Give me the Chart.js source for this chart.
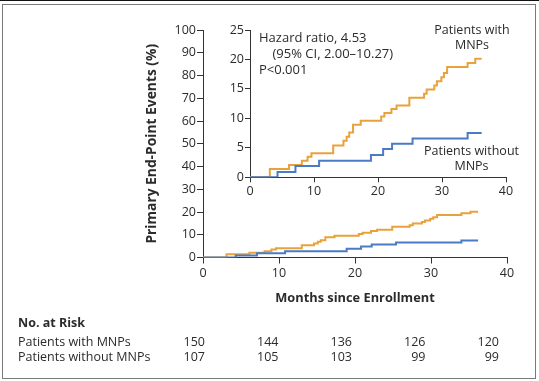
<!DOCTYPE html>
<html>
<head>
<meta charset="utf-8">
<script src="https://cdn.jsdelivr.net/npm/chart.js@4.4.1/dist/chart.umd.min.js"></script>
<style>
html,body{margin:0;padding:0;background:#fff;}
#wrap{position:relative;width:539px;height:381px;overflow:hidden;font-family:"Open Sans",sans-serif;color:#2b2b2b;font-size:12.5px;}
#topline{position:absolute;left:0;top:0;width:539px;height:1px;background:#111;}
#frame{position:absolute;left:2px;top:4px;width:534px;height:375px;box-sizing:border-box;border:1.5px solid #7a7a7a;}
canvas{position:absolute;}
#main{left:0;top:0;}
#inset{left:200px;top:15px;}
.t{position:absolute;white-space:nowrap;line-height:16px;}
.c{text-align:center;}
.r{text-align:right;width:40px;}
.hz{font-size:13px;}
</style>
</head>
<body>
<div id="wrap">
  <div id="topline"></div>
  <div id="frame"></div>
  <canvas id="main" width="539" height="381"></canvas>
  <canvas id="inset" width="320" height="200"></canvas>
  <div class="t hz" style="left:259px;top:28.5px;">Hazard ratio, 4.53</div>
  <div class="t hz" style="left:272.5px;top:44.5px;">(95% CI, 2.00–10.27)</div>
  <div class="t hz" style="left:259px;top:60.5px;">P&lt;0.001</div>
  <div class="t c" style="left:412px;width:120px;top:22px;line-height:15px;">Patients with<br>MNPs</div>
  <div class="t c" style="left:411.5px;width:120px;top:143px;line-height:15px;">Patients without<br>MNPs</div>
  <div class="t" style="left:18px;top:315px;font-weight:bold;">No. at Risk</div>
  <div id="risk"></div>
</div>
<script>
// ---- data ----
const monthTicks = [0, 10, 20, 30, 40];
const withMonths  = [0, 3.1, 6.1, 8.1, 9.0, 9.6, 13.0, 14.6, 15.1, 15.5, 16.1, 17.3, 20.5, 21.0, 22.1, 22.9, 24.9, 27.2, 27.6, 28.8, 29.2, 29.9, 30.3, 30.8, 34.0, 35.2, 36.2];
const withValues  = [0, 1.4, 2.1, 2.8, 3.5, 4.1, 5.4, 6.2, 6.9, 7.6, 8.9, 9.6, 10.3, 10.9, 11.6, 12.2, 13.5, 14.2, 14.9, 15.6, 16.3, 17.0, 17.7, 18.7, 19.4, 20.1, 20.1];
const withoutMonths = [0, 4.3, 7.1, 10.8, 18.9, 20.8, 22.2, 25.4, 34.0, 36.2];
const withoutValues = [0, 0.9, 1.9, 2.8, 3.8, 4.8, 5.7, 6.6, 7.5, 7.5];
const riskLabels  = ["Patients with MNPs", "Patients without MNPs"];
const riskWith    = [150, 144, 136, 126, 120];
const riskWithout = [107, 105, 103, 99, 99];

const ORANGE = '#E9A23B';
const BLUE = '#4A7BC4';
const INK = '#2b2b2b';
const AXIS = '#333333';
const FONT = {family: '"Open Sans", sans-serif', size: 12.5};

function pts(xs, ys){ return xs.map((x,i)=>({x:x, y:ys[i]})); }
function datasets(){
  return [
    {data: pts(withoutMonths, withoutValues), borderColor: BLUE, borderWidth: 2, pointRadius: 0, stepped: true, fill: false},
    {data: pts(withMonths, withValues), borderColor: ORANGE, borderWidth: 2, pointRadius: 0, stepped: true, fill: false}
  ];
}
function axisGrid(len){
  return {display: true, drawOnChartArea: false, drawTicks: true, tickLength: len, tickColor: AXIS, color: AXIS, lineWidth: 1};
}

new Chart(document.getElementById('main'), {
  type: 'line',
  data: {datasets: datasets()},
  options: {
    responsive: false, animation: false, devicePixelRatio: 1,
    layout: {padding: {left: 140, top: 30, right: 32, bottom: 75}},
    plugins: {legend: {display: false}, tooltip: {enabled: false}},
    scales: {
      x: {
        type: 'linear', min: 0, max: 40,
        afterBuildTicks: s => { s.ticks = monthTicks.map(v => ({value: v})); },
        ticks: {color: INK, font: FONT, padding: 2, maxRotation: 0},
        grid: axisGrid(6),
        border: {display: true, color: AXIS, width: 1},
        title: {display: true, text: 'Months since Enrollment', color: INK, font: {family: FONT.family, size: 12.8, weight: 'bold'}, padding: {top: 0, bottom: 0}},
        afterFit: s => { s.height = 48.5; }
      },
      y: {
        type: 'linear', min: 0, max: 100,
        ticks: {stepSize: 10, color: INK, font: FONT, padding: 1},
        grid: axisGrid(6),
        border: {display: true, color: AXIS, width: 1},
        title: {display: true, text: 'Primary End-Point Events (%)', color: INK, font: {family: FONT.family, size: 13.8, weight: 'bold'}, padding: {top: 3.5, bottom: 0}},
        afterFit: s => { s.width = 63; }
      }
    }
  }
});

new Chart(document.getElementById('inset'), {
  type: 'line',
  data: {datasets: datasets()},
  options: {
    responsive: false, animation: false, devicePixelRatio: 1,
    layout: {padding: {left: 0, top: 15, right: 14, bottom: 17.7}},
    plugins: {legend: {display: false}, tooltip: {enabled: false}},
    scales: {
      x: {
        type: 'linear', min: 0, max: 40,
        afterBuildTicks: s => { s.ticks = monthTicks.map(v => ({value: v})); },
        ticks: {color: INK, font: FONT, padding: 2, maxRotation: 0},
        grid: axisGrid(5),
        border: {display: true, color: AXIS, width: 1},
        afterFit: s => { s.height = 20; }
      },
      y: {
        type: 'linear', min: 0, max: 25,
        ticks: {stepSize: 5, color: INK, font: FONT, padding: 1},
        grid: axisGrid(5),
        border: {display: true, color: AXIS, width: 1},
        afterFit: s => { s.width = 50; }
      }
    }
  }
});

// ---- number-at-risk table ----
const risk = document.getElementById('risk');
const rowTops = [333.5, 349];
[riskWith, riskWithout].forEach((row, r) => {
  const lab = document.createElement('div');
  lab.className = 't';
  lab.style.left = '18px';
  lab.style.top = rowTops[r] + 'px';
  lab.textContent = riskLabels[r];
  risk.appendChild(lab);
  row.forEach((n, i) => {
    const d = document.createElement('div');
    d.className = 't r';
    const right = 205 + i * 73.5;
    d.style.left = (right - 40) + 'px';
    d.style.top = rowTops[r] + 'px';
    d.textContent = n;
    risk.appendChild(d);
  });
});
</script>
</body>
</html>
